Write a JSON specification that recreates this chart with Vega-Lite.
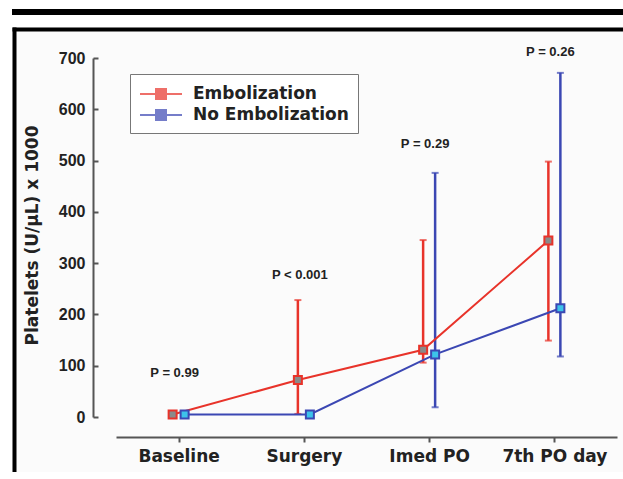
{
  "$schema": "https://vega.github.io/schema/vega-lite/v6.json",
  "padding": {"left": 12, "top": 9, "right": 0, "bottom": 0},
  "background": "white",
  "spacing": 12,
  "config": {"view": {"stroke": "transparent", "strokeWidth": 0}},
  "datasets": {
    "means": [
      {"time": "Baseline", "group": "Embolization", "mean": 5},
      {"time": "Surgery", "group": "Embolization", "mean": 72},
      {"time": "Imed PO", "group": "Embolization", "mean": 131},
      {"time": "7th PO day", "group": "Embolization", "mean": 344},
      {"time": "Baseline", "group": "No Embolization", "mean": 5},
      {"time": "Surgery", "group": "No Embolization", "mean": 5},
      {"time": "Imed PO", "group": "No Embolization", "mean": 122},
      {"time": "7th PO day", "group": "No Embolization", "mean": 212}
    ],
    "errs": [
      {"time": "Surgery", "group": "Embolization", "lo": 6, "hi": 228},
      {"time": "Imed PO", "group": "Embolization", "lo": 106, "hi": 345},
      {"time": "7th PO day", "group": "Embolization", "lo": 149, "hi": 498},
      {"time": "Imed PO", "group": "No Embolization", "lo": 19, "hi": 476},
      {"time": "7th PO day", "group": "No Embolization", "lo": 118, "hi": 671}
    ],
    "pvals": [
      {"time": "Baseline", "p": "P = 0.99", "ypos": 86},
      {"time": "Surgery", "p": "P < 0.001", "ypos": 277},
      {"time": "Imed PO", "p": "P = 0.29", "ypos": 532},
      {"time": "7th PO day", "p": "P = 0.26", "ypos": 711}
    ]
  },
  "vconcat": [
    {
      "width": 611,
      "height": 6,
      "view": {"fill": "black", "stroke": "transparent", "strokeWidth": 0},
      "data": {"values": []},
      "mark": {"type": "rule"},
      "encoding": {}
    },
    {
      "width": 611,
      "height": 445,
      "view": {"fill": "#fbfbfb", "stroke": "transparent", "strokeWidth": 0},
      "resolve": {
        "scale": {"x": "independent", "y": "independent"},
        "axis": {"x": "independent", "y": "independent"}
      },
      "layer": [
        {
          "encoding": {
            "x": {
              "field": "time",
              "type": "ordinal",
              "sort": ["Baseline", "Surgery", "Imed PO", "7th PO day"],
              "scale": {"type": "point", "range": [104, 605], "padding": 0.5},
              "axis": {
                "title": null,
                "orient": "bottom",
                "offset": -35,
                "grid": false,
                "domainColor": "#555",
                "domainWidth": 2,
                "tickColor": "#555",
                "tickWidth": 2,
                "tickSize": 5,
                "labelAngle": 0,
                "labelFont": "DejaVu Sans",
                "labelFontSize": 17,
                "labelFontWeight": "bold",
                "labelColor": "#222",
                "labelPadding": 6
              }
            }
          },
          "layer": [
            {
              "data": {"name": "errs"},
              "mark": {"type": "rule", "strokeWidth": 2.5},
              "encoding": {
                "xOffset": {"field": "group", "type": "nominal", "scale": {"type": "point", "range": [-6, 6], "padding": 0}},
                "y": {
                  "field": "lo",
                  "type": "quantitative",
                  "scale": {"domain": [0, 700], "range": [390, 31], "nice": false, "zero": false},
                  "axis": {
                    "title": "Platelets (U/µL) x 1000",
                    "orient": "left",
                    "values": [0, 50, 100, 150, 200, 250, 300, 350, 400, 450, 500, 550, 600, 650, 700],
                    "labelExpr": "datum.value % 100 === 0 ? datum.label : ''",
                    "offset": -81,
                    "grid": false,
                    "tickSize": -5,
                    "domainColor": "#555",
                    "domainWidth": 2,
                    "tickColor": "#555",
                    "tickWidth": 2,
                    "labelPadding": 13,
                    "labelFont": "Liberation Sans",
                    "labelFontWeight": "bold",
                    "labelFontSize": 16,
                    "labelColor": "#222",
                    "titleFont": "DejaVu Sans",
                    "titleFontSize": 17,
                    "titleFontWeight": "bold",
                    "titleColor": "#222",
                    "titleX": -52,
                    "titleY": 208,
                    "titleAngle": -90,
                    "titleAlign": "center",
                    "titleBaseline": "bottom"
                  }
                },
                "y2": {"field": "hi"},
                "color": {
                  "field": "group",
                  "type": "nominal",
                  "scale": {"domain": ["Embolization", "No Embolization"], "range": ["#e8332a", "#3b47b3"]}
                }
              }
            },
            {
              "data": {"name": "errs"},
              "mark": {"type": "tick", "size": 7, "thickness": 2},
              "encoding": {
                "xOffset": {"field": "group", "type": "nominal", "scale": {"type": "point", "range": [-6, 6], "padding": 0}},
                "y": {"field": "lo", "type": "quantitative"},
                "color": {"field": "group", "type": "nominal"}
              }
            },
            {
              "data": {"name": "errs"},
              "mark": {"type": "tick", "size": 7, "thickness": 2},
              "encoding": {
                "xOffset": {"field": "group", "type": "nominal", "scale": {"type": "point", "range": [-6, 6], "padding": 0}},
                "y": {"field": "hi", "type": "quantitative"},
                "color": {"field": "group", "type": "nominal"}
              }
            },
            {
              "data": {"name": "means"},
              "mark": {"type": "line", "strokeWidth": 2},
              "encoding": {
                "xOffset": {"field": "group", "type": "nominal", "scale": {"type": "point", "range": [-6, 6], "padding": 0}},
                "y": {"field": "mean", "type": "quantitative"},
                "color": {"field": "group", "type": "nominal"}
              }
            },
            {
              "data": {"name": "means"},
              "mark": {"type": "point", "shape": "square", "size": 64, "strokeWidth": 2, "opacity": 1, "fillOpacity": 1, "filled": false},
              "encoding": {
                "xOffset": {"field": "group", "type": "nominal", "scale": {"type": "point", "range": [-6, 6], "padding": 0}},
                "y": {"field": "mean", "type": "quantitative"},
                "color": {
                  "field": "group",
                  "type": "nominal",
                  "legend": {
                    "title": null,
                    "orient": "none",
                    "legendX": 118,
                    "legendY": 65,
                    "symbolType": "M-1,0H0.6M1.6,0H3.2M0.6,-0.5H1.6V0.5H0.6Z",
                    "symbolSize": 400,
                    "symbolStrokeWidth": 2,
                    "symbolOpacity": 1,
                    "labelFont": "DejaVu Sans",
                    "labelFontSize": 17,
                    "labelFontWeight": "bold",
                    "labelColor": "#222",
                    "labelOffset": 32,
                    "rowPadding": 1,
                    "padding": 9,
                    "strokeColor": "#777",
                    "fillColor": "white",
                    "encode": {
                      "legend": {"strokeWidth": {"value": 2}},
                      "symbols": {
                        "fill": {"value": {"expr": "datum.value === 'Embolization' ? '#8a8a8a' : '#3cc3ea'"}},
                        "fillOpacity": {"value": 1},
                        "opacity": {"value": 1}
                      }
                    }
                  }
                },
                "fill": {
                  "field": "group",
                  "type": "nominal",
                  "scale": {"domain": ["Embolization", "No Embolization"], "range": ["#8a8a8a", "#3cc3ea"]},
                  "legend": null
                }
              }
            },
            {
              "data": {"name": "pvals"},
              "mark": {"type": "text", "dx": -4, "font": "Liberation Sans", "fontWeight": "bold", "fontSize": 13, "color": "#222", "baseline": "middle"},
              "encoding": {
                "y": {"field": "ypos", "type": "quantitative"},
                "text": {"field": "p"}
              }
            }
          ]
        },
        {
          "data": {"values": []},
          "mark": {"type": "rule"},
          "encoding": {
            "x": {
              "field": "bx",
              "type": "quantitative",
              "scale": {"domain": [0, 1], "range": [0, 611], "nice": false, "zero": false},
              "axis": {"orient": "top", "offset": -2, "domainColor": "black", "domainWidth": 4, "ticks": false, "labels": false, "grid": false, "title": null}
            },
            "y": {
              "field": "by",
              "type": "quantitative",
              "scale": {"domain": [0, 1], "range": [445, 0], "nice": false, "zero": false},
              "axis": {"orient": "left", "offset": -2, "domainColor": "black", "domainWidth": 4, "ticks": false, "labels": false, "grid": false, "title": null}
            }
          }
        }
      ]
    }
  ]
}
